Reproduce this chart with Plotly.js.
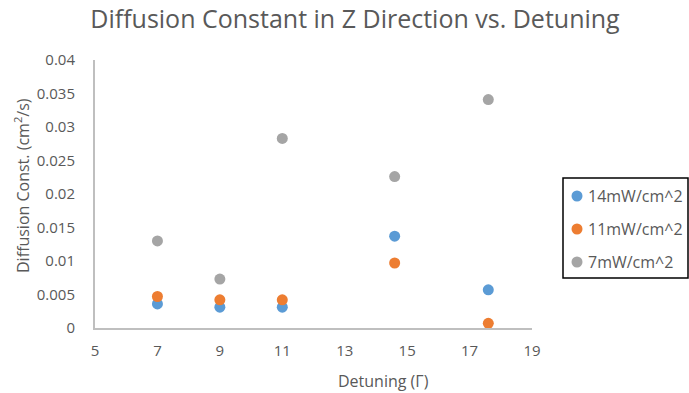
<!DOCTYPE html>
<html>
<head>
<meta charset="utf-8">
<script src="https://cdn.plot.ly/plotly-3.0.1.min.js"></script>
<style>html,body{margin:0;padding:0;background:#fff;}#chart{width:689px;height:393px;}</style>
</head>
<body>
<div id="chart"></div>
<script>
const detuning = [7, 9, 11, 14.6, 17.6];
const series14 = [0.0036, 0.0031, 0.0031, 0.0137, 0.0057];
const series11 = [0.0047, 0.0042, 0.0042, 0.0097, 0.0007];
const series7 = [0.0130, 0.0073, 0.0283, 0.0226, 0.0341];
const seriesNames = ['14mW/cm^2', '11mW/cm^2', '7mW/cm^2'];
const colors = ['#5b9bd5', '#ed7d31', '#a5a5a5'];
const xTicks = [5, 7, 9, 11, 13, 15, 17, 19];
const yTicks = [0, 0.005, 0.01, 0.015, 0.02, 0.025, 0.03, 0.035, 0.04];

const W = 689, H = 393;
const M = {l: 95, r: 157, t: 60, b: 65};
const PW = W - M.l - M.r, PH = H - M.t - M.b;
const px = x => (x - M.l) / PW;          // pixel -> paper x
const py = y => (H - M.b - y) / PH;      // pixel -> paper y

const font = "'Open Sans', 'Liberation Sans', sans-serif";
const grey = '#595959';
const allY = [series14, series11, series7];
const traces = allY.map((ys, i) => ({
  x: detuning, y: ys, type: 'scatter', mode: 'markers', name: seriesNames[i],
  marker: {color: colors[i], size: 11}, showlegend: false
}));

// manual legend (layout decoration)
const legRows = [196, 229, 262];
const shapes = [{type: 'rect', xref: 'paper', yref: 'paper', x0: px(563), x1: px(688), y0: py(178), y1: py(278),
                 line: {color: '#000', width: 1.5}, fillcolor: 'rgba(0,0,0,0)'}];
const annotations = [];
seriesNames.forEach((n, i) => {
  const cy = legRows[i];
  shapes.push({type: 'circle', xref: 'paper', yref: 'paper', x0: px(571.5), x1: px(582.5), y0: py(cy + 5.5), y1: py(cy - 5.5),
               line: {width: 0}, fillcolor: colors[i]});
  annotations.push({xref: 'paper', yref: 'paper', x: px(586), y: py(cy), xanchor: 'left', yanchor: 'middle',
                    text: n, showarrow: false, font: {size: 16, color: grey}});
});
annotations.push({xref: 'paper', yref: 'paper', x: px(383), y: py(381), xanchor: 'center', yanchor: 'middle',
                  text: 'Detuning (Γ)', showarrow: false, font: {size: 16, color: grey}});
annotations.push({xref: 'paper', yref: 'paper', x: px(22), y: py(186), xanchor: 'center', yanchor: 'middle',
                  textangle: -90, text: 'Diffusion Const. (cm<sup>2</sup>/s)', showarrow: false, font: {size: 16, color: grey}});

const layout = {
  width: W, height: H,
  margin: M,
  paper_bgcolor: '#fff', plot_bgcolor: '#fff',
  font: {family: font, color: grey, size: 15},
  title: {text: 'Diffusion Constant in Z Direction vs. Detuning', font: {family: font, size: 25, color: grey},
          xref: 'container', x: 355 / W, xanchor: 'center', yref: 'container', y: 1 - 19 / H, yanchor: 'middle'},
  xaxis: {range: [5, 19], tickvals: xTicks, ticktext: xTicks.map(String), showgrid: false, zeroline: false,
          showline: true, linecolor: '#bfbfbf', linewidth: 2, ticks: '', ticklen: 0, ticklabelstandoff: 8,
          tickfont: {size: 15, color: grey}},
  yaxis: {range: [0, 0.04], tickvals: yTicks, ticktext: yTicks.map(String), showgrid: false, zeroline: false,
          showline: true, linecolor: '#bfbfbf', linewidth: 2, ticks: '', ticklen: 0, ticklabelstandoff: 15,
          tickfont: {size: 15, color: grey}},
  shapes: shapes,
  annotations: annotations,
  showlegend: false
};
Plotly.newPlot('chart', traces, layout, {displayModeBar: false, staticPlot: true});
</script>
</body>
</html>
